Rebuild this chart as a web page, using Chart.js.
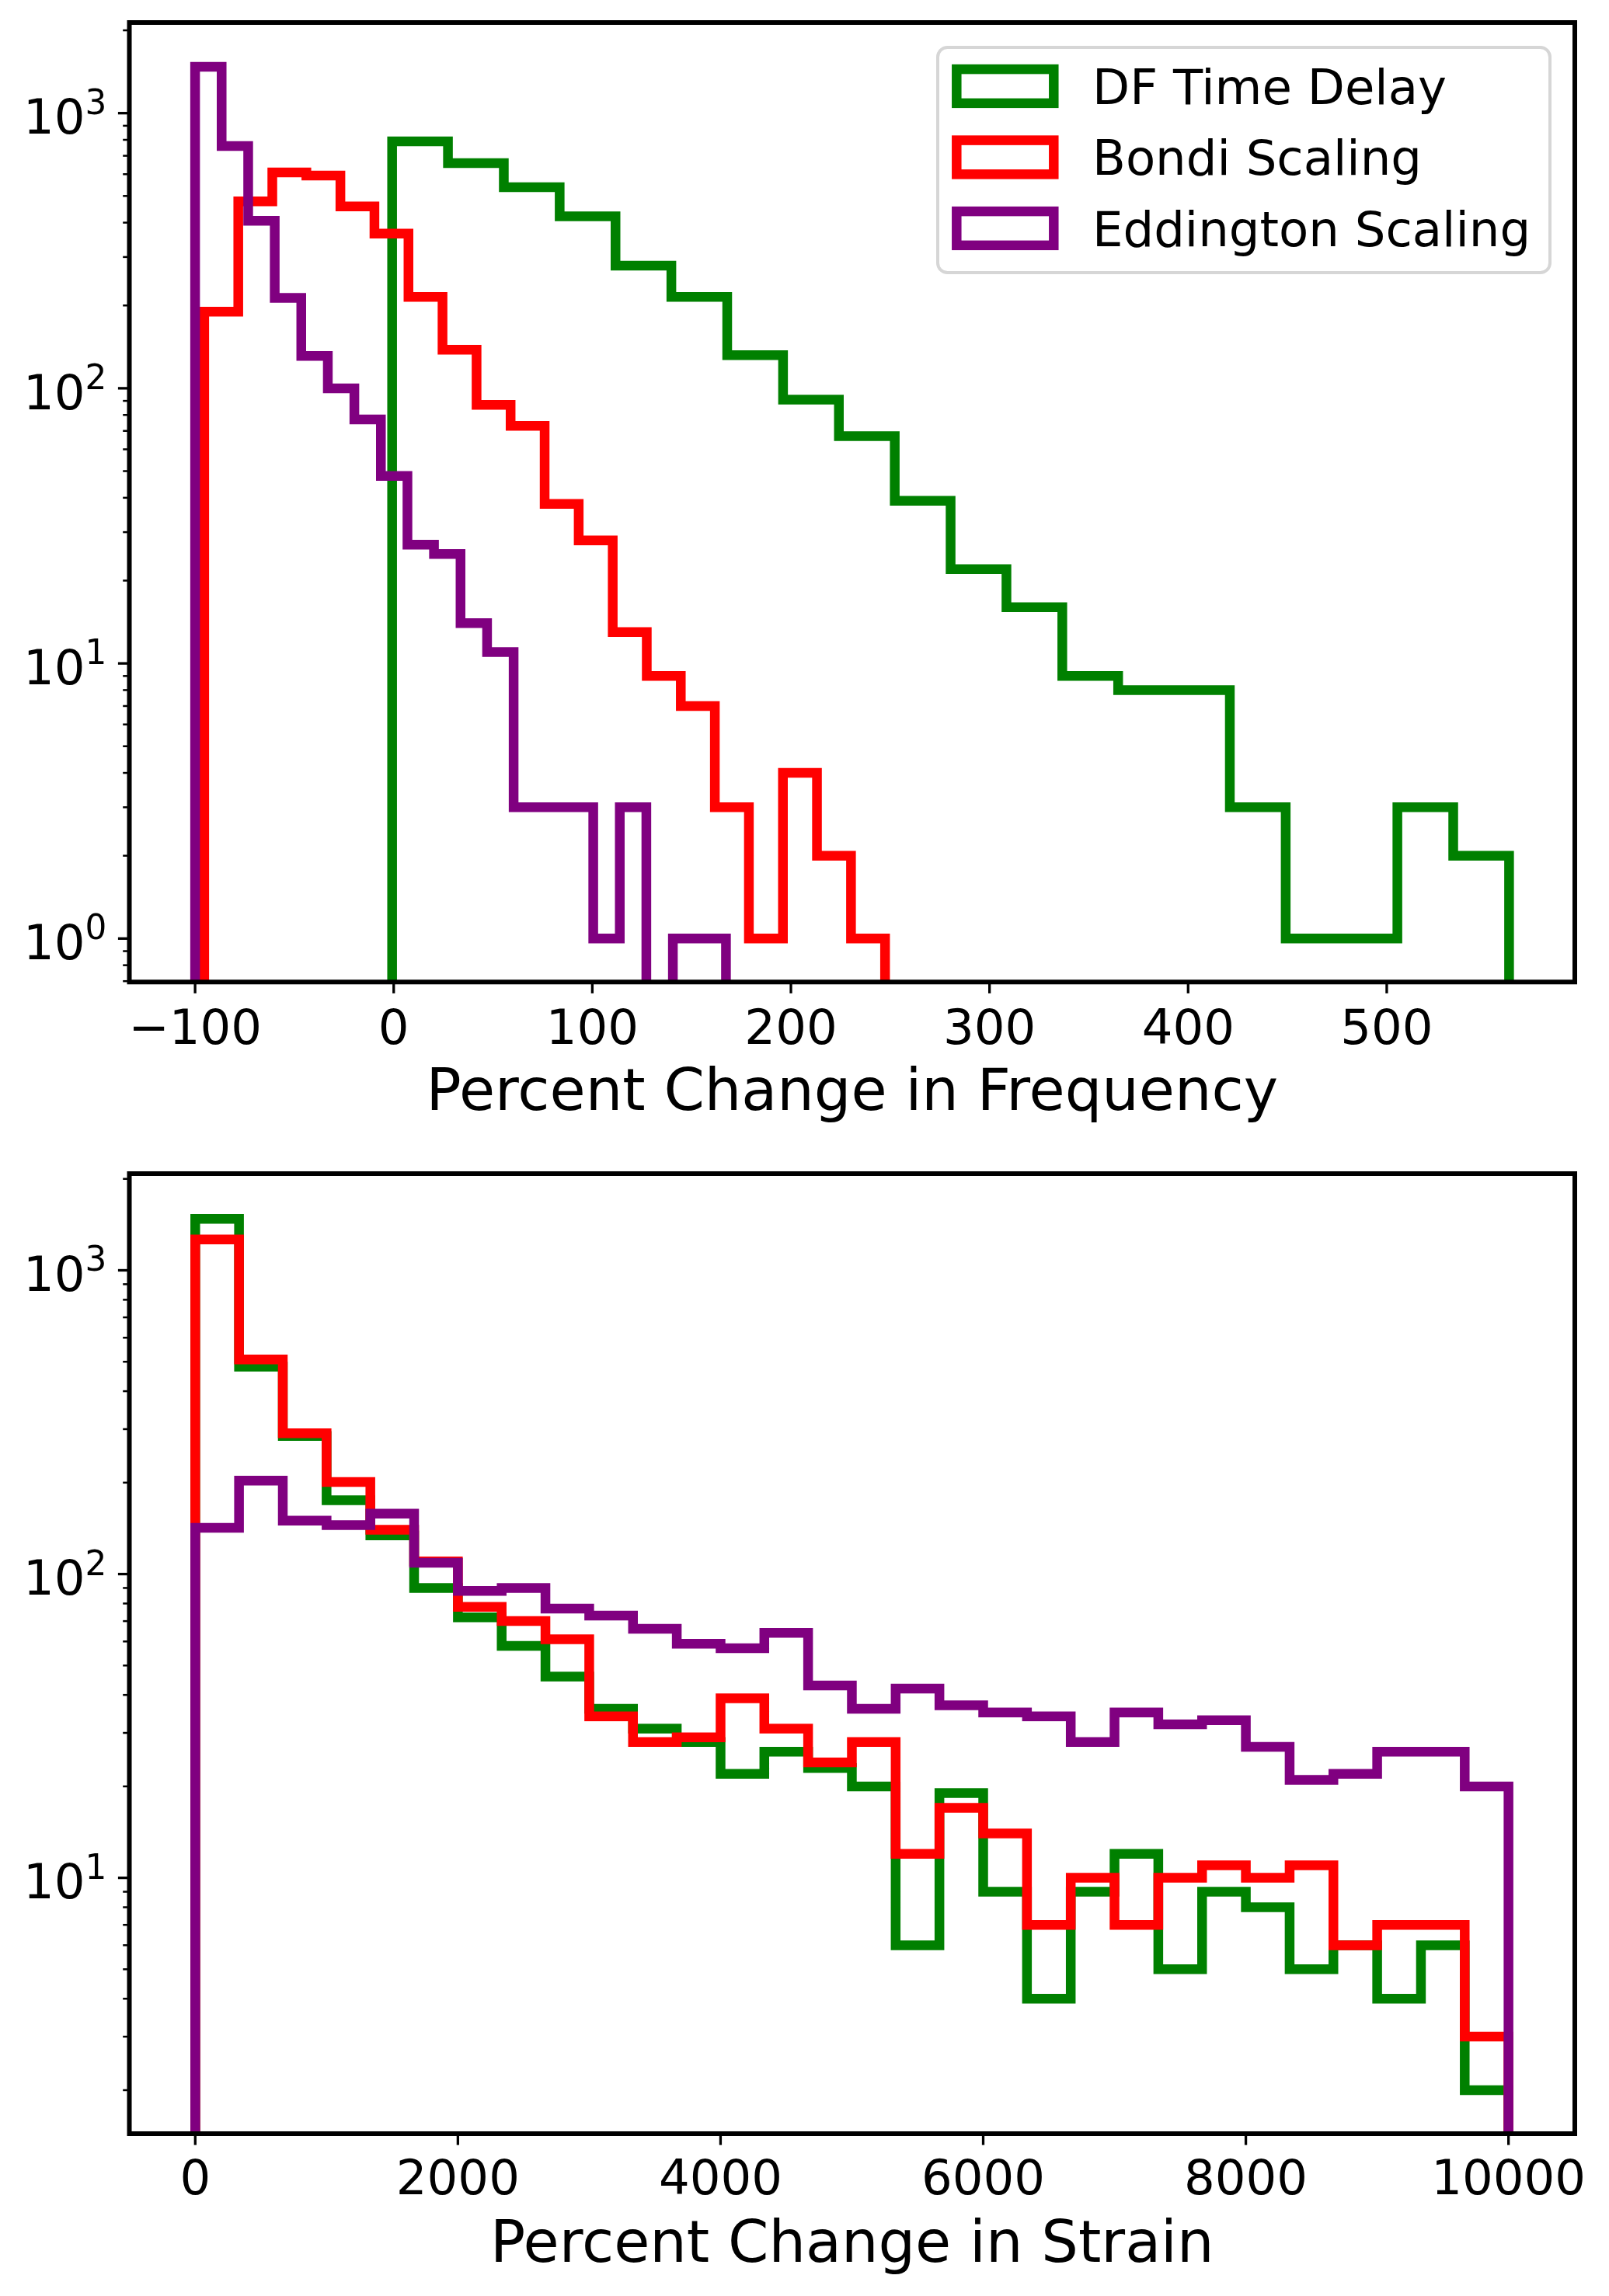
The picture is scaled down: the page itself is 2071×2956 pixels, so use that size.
<!DOCTYPE html>
<html>
<head>
<meta charset="utf-8">
<title>Percent change histograms</title>
<script src="https://cdn.jsdelivr.net/npm/chart.js"></script>
<style>
    html, body { margin: 0; padding: 0; background: #ffffff; }
    .panel { position: absolute; left: 0; }
</style>
</head>
<body>
<div class="panel" style="top: 0;"><canvas id="freqChart" width="2071" height="1480"></canvas></div>
<div class="panel" style="top: 1480px;"><canvas id="strainChart" width="2071" height="1476"></canvas></div>

<script>
// Series names and colours
const seriesLabels = ['DF Time Delay', 'Bondi Scaling', 'Eddington Scaling'];
const seriesColors = ['green', 'red', 'purple'];

// Top panel: percent change in frequency (20 bins per series, [first edge, last edge])
const freqGreenRange = [-0.8, 561.6];
const freqRedRange = [-95.4, 247.4];
const freqPurpleRange = [-100, 167.3];
const freqGreen = [790, 658, 538, 422, 279, 215, 132, 91, 67, 39, 22, 16, 9, 8, 8, 3, 1, 1, 3, 2];
const freqRed = [190, 478, 609, 593, 458, 365, 215, 138, 87, 73, 38, 28, 13, 9, 7, 3, 1, 4, 2, 1];
const freqPurple = [1473, 760, 406, 213, 131, 100, 77, 48, 27, 25, 14, 11, 3, 3, 3, 1, 3, 0, 1, 1];
const freqTicks = [-100, 0, 100, 200, 300, 400, 500];

// Bottom panel: percent change in strain (30 bins, shared range)
const strainRange = [0, 10000];
const strainGreen = [1477, 482, 285, 175, 134, 90, 72, 58, 46, 36, 31, 28, 22, 26, 23, 20, 6, 19, 9, 4, 9, 12, 5, 9, 8, 5, 6, 4, 6, 2];
const strainRed = [1264, 509, 291, 201, 140, 110, 78, 70, 61, 34, 28, 29, 39, 31, 24, 28, 12, 17, 14, 7, 10, 7, 10, 11, 10, 11, 6, 7, 7, 3];
const strainPurple = [142, 203, 150, 145, 158, 109, 88, 90, 77, 73, 66, 59, 57, 64, 43, 36, 42, 37, 35, 34, 28, 35, 32, 33, 27, 21, 22, 26, 26, 20];
const strainTicks = [0, 2000, 4000, 6000, 8000, 10000];

const FONT = 'DejaVu Sans';
Chart.defaults.font.family = FONT;
Chart.defaults.color = '#000000';

// Outline of a step histogram: run up from below the axis, across each bin, back down
function stepPoints(range, counts) {
    const floor = 1e-3;
    const w = (range[1] - range[0]) / counts.length;
    const pts = [{ x: range[0], y: floor }];
    counts.forEach((c, i) => {
        pts.push({ x: range[0] + (i + 1) * w, y: c > 0 ? c : floor });
    });
    pts.push({ x: range[1], y: floor });
    return pts;
}

function makeDatasets(ranges, countsList) {
    return countsList.map((counts, i) => ({
        label: seriesLabels[i],
        data: stepPoints(ranges[i], counts),
        borderColor: seriesColors[i],
        backgroundColor: 'rgba(0,0,0,0)',
        borderWidth: 12.5,
        borderJoinStyle: 'miter',
        borderCapStyle: 'butt',
        stepped: 'after',
        fill: false,
        pointRadius: 0,
        tension: 0,
        clip: 0,
        order: 3 - i   // later series drawn on top
    }));
}

function tickText(v) {
    return v < 0 ? '\u2212' + Math.abs(v) : String(v);
}

// Frame, outward tick marks and 10^n labels in the matplotlib manner
const mplAxes = {
    id: 'mplAxes',
    afterDatasetsDraw(chart, args, opts) {
        const ctx = chart.ctx;
        const a = chart.chartArea;
        const xs = chart.scales.x;
        const ys = chart.scales.y;
        ctx.save();
        ctx.strokeStyle = '#000000';
        ctx.lineCap = 'butt';

        // x ticks
        ctx.lineWidth = 3.3;
        opts.xTicks.forEach(v => {
            const px = xs.getPixelForValue(v);
            ctx.beginPath();
            ctx.moveTo(px, a.bottom);
            ctx.lineTo(px, a.bottom + 14.6);
            ctx.stroke();
        });

        // y ticks, major and minor
        const lo = Math.floor(Math.log10(ys.min));
        const hi = Math.ceil(Math.log10(ys.max));
        const labels = [];
        for (let e = lo; e <= hi; e++) {
            for (let k = 1; k <= 9; k++) {
                const v = k * Math.pow(10, e);
                if (v < ys.min || v > ys.max) continue;
                const py = ys.getPixelForValue(v);
                ctx.lineWidth = k === 1 ? 3.3 : 2.5;
                ctx.beginPath();
                ctx.moveTo(a.left, py);
                ctx.lineTo(a.left - (k === 1 ? 14.6 : 8.3), py);
                ctx.stroke();
                if (k === 1) labels.push({ e: e, py: py });
            }
        }

        // spines
        ctx.lineWidth = 6;
        ctx.strokeRect(a.left, a.top, a.right - a.left, a.bottom - a.top);

        // 10^n labels
        ctx.fillStyle = '#000000';
        ctx.textBaseline = 'alphabetic';
        ctx.textAlign = 'left';
        labels.forEach(l => {
            ctx.font = '62.5px "' + FONT + '"';
            const base = '10';
            const wBase = ctx.measureText(base).width;
            ctx.font = '43.75px "' + FONT + '"';
            const sup = String(l.e);
            const wSup = ctx.measureText(sup).width;
            const right = a.left - 29.2;
            const x0 = right - wBase - wSup;
            ctx.font = '62.5px "' + FONT + '"';
            ctx.fillText(base, x0, l.py + 26.7);
            ctx.font = '43.75px "' + FONT + '"';
            ctx.fillText(sup, x0 + wBase, l.py + 1);
        });
        ctx.restore();
    }
};

// Legend box in the upper right of the top panel
const stepLegend = {
    id: 'stepLegend',
    afterDraw(chart) {
        const ctx = chart.ctx;
        const a = chart.chartArea;
        const fs = 62.5;
        const right = a.right - 32;
        const top = a.top + 32;
        const w = 788;
        const h = 290;
        ctx.save();
        ctx.beginPath();
        ctx.roundRect(right - w, top, w, h, 12.5);
        ctx.fillStyle = 'rgba(255,255,255,0.8)';
        ctx.fill();
        ctx.lineWidth = 4;
        ctx.strokeStyle = '#d6d6d6';
        ctx.stroke();

        ctx.font = fs + 'px "' + FONT + '"';
        ctx.textBaseline = 'alphabetic';
        ctx.textAlign = 'left';
        chart.data.datasets.forEach((ds, i) => {
            const cy = top + 50 + i * 91.5;
            ctx.lineWidth = 12.5;
            ctx.lineJoin = 'miter';
            ctx.strokeStyle = ds.borderColor;
            ctx.strokeRect(right - w + 24.3, cy - 21.9, 125, 43.75);
            ctx.fillStyle = '#000000';
            ctx.fillText(ds.label, right - w + 199, cy + 22.8);
        });
        ctx.restore();
    }
};

function makeChart(canvasId, opts) {
    const ctx = document.getElementById(canvasId).getContext('2d');
    const canvasH = ctx.canvas.height;
    return new Chart(ctx, {
        type: 'line',
        data: { datasets: opts.datasets },
        plugins: opts.legend ? [mplAxes, stepLegend] : [mplAxes],
        options: {
            responsive: false,
            animation: false,
            devicePixelRatio: 1,
            layout: { padding: { top: opts.top, right: 44, left: 0, bottom: 0 } },
            plugins: {
                legend: { display: false },
                tooltip: { enabled: false },
                mplAxes: { xTicks: opts.xTicks }
            },
            scales: {
                x: {
                    type: 'linear',
                    min: opts.xMin,
                    max: opts.xMax,
                    grid: { display: false, drawTicks: false },
                    border: { display: false },
                    afterBuildTicks: scale => {
                        scale.ticks = opts.xTicks.map(v => ({ value: v }));
                    },
                    ticks: {
                        autoSkip: false,
                        maxRotation: 0,
                        padding: opts.tickPad,
                        font: { size: 62.5, family: FONT },
                        color: '#000000',
                        callback: v => tickText(v)
                    },
                    title: {
                        display: true,
                        text: opts.xTitle,
                        color: '#000000',
                        font: { size: 75, family: FONT },
                        padding: { top: 0, bottom: opts.titlePad }
                    },
                    afterFit: scale => { scale.height = canvasH - opts.bottom; }
                },
                y: {
                    type: 'logarithmic',
                    min: opts.yMin,
                    max: opts.yMax,
                    grid: { display: false, drawTicks: false },
                    border: { display: false },
                    ticks: { display: false },
                    afterFit: scale => { scale.width = 166.5; }
                }
            }
        }
    });
}

makeChart('freqChart', {
    datasets: makeDatasets([freqGreenRange, freqRedRange, freqPurpleRange], [freqGreen, freqRed, freqPurple]),
    legend: true,
    top: 29,
    bottom: 1264.3,
    xMin: -133.1,
    xMax: 594.7,
    yMin: 0.695,
    yMax: 2135,
    xTicks: freqTicks,
    xTitle: 'Percent Change in Frequency',
    tickPad: 25.8,
    titlePad: 25.7
});

makeChart('strainChart', {
    datasets: makeDatasets([strainRange, strainRange, strainRange], [strainGreen, strainRed, strainPurple]),
    legend: false,
    top: 31,
    bottom: 1267,
    xMin: -501.7,
    xMax: 10505,
    yMin: 1.438,
    yMax: 2081,
    xTicks: strainTicks,
    xTitle: 'Percent Change in Strain',
    tickPad: 24.5,
    titlePad: 18.3
});
</script>
</body>
</html>
